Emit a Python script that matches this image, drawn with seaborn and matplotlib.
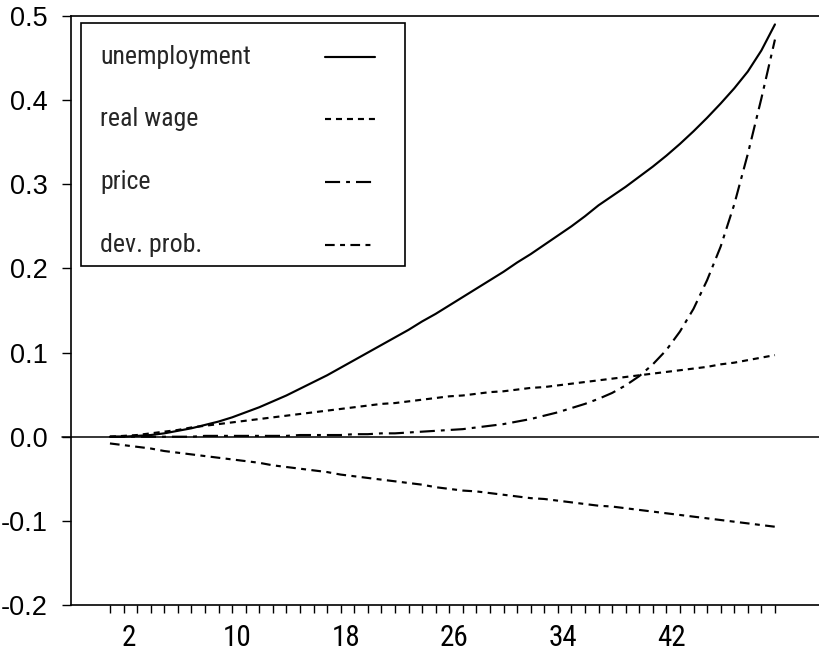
import numpy as np
import pandas as pd
import seaborn as sns
import matplotlib
matplotlib.use("Agg")
import matplotlib.pyplot as plt
from matplotlib import font_manager
from matplotlib.font_manager import FontProperties
from matplotlib.transforms import ScaledTranslation
from matplotlib.patches import Rectangle
from matplotlib.lines import Line2D

# ---- data -------------------------------------------------------------
periods = list(range(1, 51))

unemployment = [
    0.000, 0.000, 0.001, 0.002, 0.004, 0.007, 0.010, 0.014, 0.018, 0.023,
    0.029, 0.035, 0.042, 0.049, 0.057, 0.065, 0.073, 0.082, 0.091, 0.100,
    0.109, 0.118, 0.127, 0.137, 0.146, 0.156, 0.166, 0.176, 0.186, 0.196,
    0.207, 0.217, 0.228, 0.239, 0.250, 0.262, 0.275, 0.286, 0.297, 0.309,
    0.321, 0.334, 0.348, 0.363, 0.379, 0.396, 0.414, 0.434, 0.459, 0.490,
]
real_wage = [
    0.000, 0.001, 0.002, 0.004, 0.006, 0.008, 0.011, 0.013, 0.015, 0.017,
    0.019, 0.021, 0.023, 0.025, 0.027, 0.029, 0.031, 0.033, 0.035, 0.037,
    0.039, 0.040, 0.042, 0.044, 0.046, 0.048, 0.049, 0.051, 0.053, 0.054,
    0.056, 0.058, 0.059, 0.061, 0.063, 0.065, 0.067, 0.069, 0.071, 0.073,
    0.075, 0.077, 0.079, 0.081, 0.083, 0.086, 0.088, 0.091, 0.094, 0.097,
]
price = [
    0.000, 0.000, 0.000, 0.000, 0.000, 0.000, 0.000, 0.001, 0.001, 0.001,
    0.001, 0.001, 0.001, 0.001, 0.002, 0.002, 0.002, 0.002, 0.003, 0.003,
    0.004, 0.004, 0.005, 0.006, 0.007, 0.008, 0.009, 0.011, 0.013, 0.015,
    0.018, 0.021, 0.025, 0.029, 0.034, 0.039, 0.045, 0.052, 0.061, 0.072,
    0.086, 0.103, 0.125, 0.152, 0.186, 0.226, 0.276, 0.336, 0.402, 0.472,
]
dev_prob = [
    -0.008, -0.010, -0.012, -0.014, -0.017, -0.019, -0.021, -0.023, -0.025, -0.027,
    -0.029, -0.031, -0.034, -0.036, -0.038, -0.040, -0.042, -0.045, -0.047, -0.049,
    -0.051, -0.053, -0.055, -0.057, -0.060, -0.062, -0.064, -0.065, -0.067, -0.069,
    -0.071, -0.073, -0.074, -0.076, -0.078, -0.080, -0.082, -0.083, -0.085, -0.087,
    -0.089, -0.091, -0.093, -0.095, -0.097, -0.099, -0.101, -0.103, -0.105, -0.107,
]

series_names = ["unemployment", "real wage", "price", "dev. prob."]
x_tick_labels = [2, 10, 18, 26, 34, 42]
y_ticks = [-0.2, -0.1, 0.0, 0.1, 0.2, 0.3, 0.4, 0.5]

# ---- fonts ------------------------------------------------------------
sns.set_theme(style="ticks")

ttf = font_manager.fontManager.ttflist
names = {f.name for f in ttf}
sans = "Liberation Sans" if "Liberation Sans" in names else "DejaVu Sans"
plt.rcParams["font.family"] = [sans, "DejaVu Sans"]


def narrow_font(size):
    """A condensed sans face for the axis numbers and legend labels."""
    for fam in ["Liberation Sans Narrow", "Roboto Condensed", "Open Sans Condensed",
                "DejaVu Sans Condensed", "Noto Sans Condensed"]:
        if fam in names:
            return FontProperties(family=fam, size=size)
    for f in ttf:
        if f.name in ("DejaVu Sans", "Noto Sans", "Open Sans", "Roboto") and \
                str(f.stretch) in ("condensed", "semi-condensed", "75", "87"):
            if f.style == "normal" and f.weight in (400, "normal", "regular"):
                return FontProperties(fname=f.fname, size=size)
    return FontProperties(family=sans, size=size * 0.87)


df = pd.concat([
    pd.DataFrame({"period": periods, "value": vals, "series": name})
    for name, vals in zip(series_names, [unemployment, real_wage, price, dev_prob])
])

dash_styles = {
    "unemployment": "",
    "real wage": (2.8, 2.3),
    "price": (7.0, 2.8, 1.8, 2.8),
    "dev. prob.": (4.5, 2.5, 2.3, 2.5),
}
lw = 1.55

fig = plt.figure(figsize=(8.2, 6.54), dpi=100)
ax = fig.add_axes([71 / 820, 49 / 654, 749 / 820, 589 / 654])

sns.lineplot(data=df, x="period", y="value", style="series", dashes=dash_styles,
             color="black", linewidth=lw, legend=False, ax=ax,
             style_order=series_names)

ax.axhline(0.0, color="black", linewidth=1.1, xmin=-0.012, xmax=1.0, clip_on=False, zorder=1)

ax.set_xlim(-1.87, 53.32)
ax.set_ylim(-0.2, 0.5)
ax.set_xlabel("")
ax.set_ylabel("")

ax.set_xticks(periods)
ax.set_xticklabels([str(p) if p in x_tick_labels else "" for p in periods],
                   fontproperties=narrow_font(21))
ax.set_yticks(y_ticks)
ax.set_yticklabels([f"{v:.1f}" for v in y_ticks], fontfamily=sans, fontsize=19.5)

ax.tick_params(axis="x", direction="out", length=6, width=1.0, pad=8, colors="black")
ax.tick_params(axis="y", direction="out", length=6.5, width=1.0, pad=10, colors="black")
for lbl in ax.get_xticklabels():
    lbl.set_transform(lbl.get_transform() + ScaledTranslation(0.05, 0, fig.dpi_scale_trans))

for side in ["left", "bottom", "top"]:
    ax.spines[side].set_color("black")
    ax.spines[side].set_linewidth(1.2)
ax.spines["right"].set_visible(False)

# ---- legend box with labels on the left and line samples on the right ----
ax.add_patch(Rectangle((0.0134, 0.5756), 0.4326, 0.4124, transform=ax.transAxes,
                       fill=True, facecolor="white", edgecolor="black",
                       linewidth=1.2, zorder=5))
row_y = [0.9304, 0.8251, 0.7182, 0.6112]
lfont = narrow_font(18.6)
for name, yy in zip(series_names, row_y):
    ax.text(0.0387, yy - 0.0125, name, transform=ax.transAxes, fontproperties=lfont,
            va="baseline", ha="left", zorder=6)
    sample = Line2D([0.339, 0.406], [yy, yy], transform=ax.transAxes, color="black",
                    linewidth=lw, zorder=6)
    ds = dash_styles[name]
    if ds:
        sample.set_dashes(ds)
    ax.add_line(sample)

fig.savefig("out.png", dpi=100)
